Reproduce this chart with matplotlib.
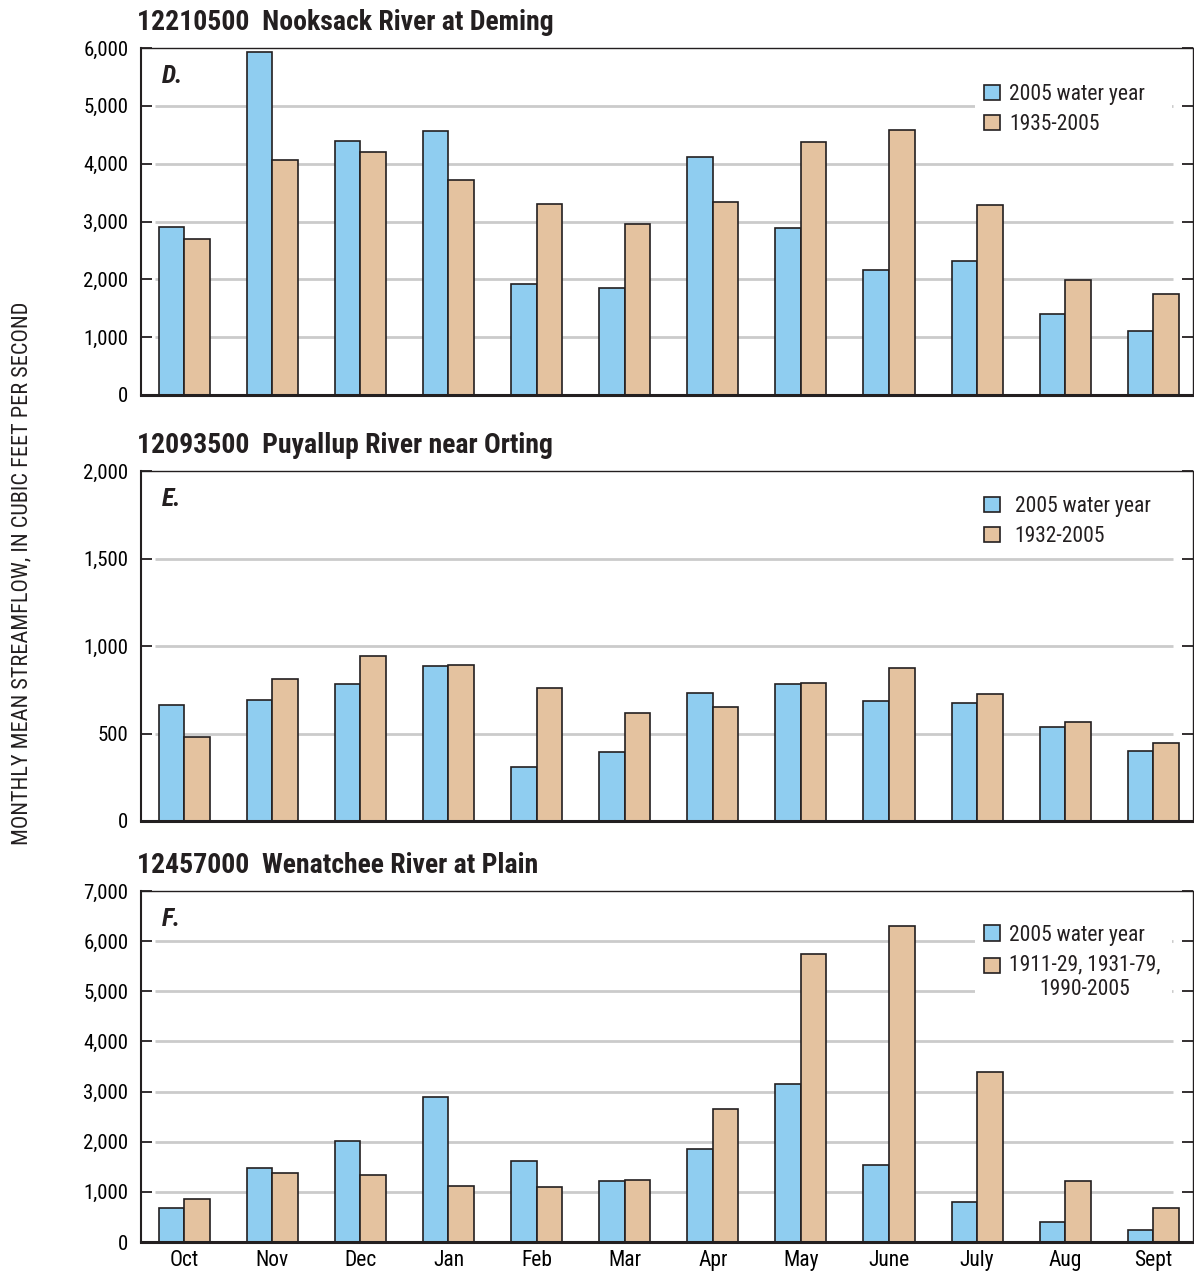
import matplotlib
matplotlib.use("Agg")
import matplotlib.pyplot as plt
from matplotlib import font_manager
from matplotlib.patches import Patch, Rectangle
from matplotlib.legend_handler import HandlerPatch
from matplotlib.ticker import FuncFormatter
import numpy as np

months = ['Oct', 'Nov', 'Dec', 'Jan', 'Feb', 'Mar', 'Apr', 'May', 'June', 'July', 'Aug', 'Sept']

# D. Nooksack River at Deming
nooksack_2005 = [2910, 5930, 4400, 4560, 1920, 1850, 4120, 2880, 2170, 2320, 1400, 1110]
nooksack_long = [2700, 4060, 4210, 3710, 3310, 2950, 3330, 4370, 4580, 3280, 1980, 1750]

# E. Puyallup River near Orting
puyallup_2005 = [662, 690, 785, 888, 306, 392, 733, 783, 685, 673, 538, 402]
puyallup_long = [481, 813, 944, 890, 762, 615, 650, 787, 873, 725, 567, 448]

# F. Wenatchee River at Plain
wenatchee_2005 = [673, 1473, 2020, 2893, 1613, 1207, 1847, 3153, 1533, 807, 407, 247]
wenatchee_long = [867, 1380, 1340, 1113, 1093, 1227, 2660, 5740, 6300, 3400, 1207, 673]

BLUE = '#8fcdf0'
TAN = '#e4c29f'
EDGE = '#231f20'
GRID = '#cbcbcb'

# narrow font if there is one
names = {f.name for f in font_manager.fontManager.ttflist}
FONT = 'DejaVu Sans'
for cand in ['Liberation Sans Narrow', 'Roboto Condensed', 'Open Sans Condensed']:
    if cand in names:
        FONT = cand
        break
plt.rcParams['font.family'] = [FONT, 'DejaVu Sans']

fig = plt.figure(figsize=(11.94, 12.74), dpi=100)

W = 1194.0
H = 1274.0
def axes_px(top, bottom, left=141, right=1193):
    return [left / W, 1 - bottom / H, (right - left) / W, (bottom - top) / H]

panels = [
    dict(box=axes_px(48, 395), ymax=6000, step=1000, letter='D.',
         title='12210500  Nooksack River at Deming', legtop=0.952, tpad=0.45,
         v1=nooksack_2005, v2=nooksack_long, lab2='1935-2005'),
    dict(box=axes_px(471, 821), ymax=2000, step=500, letter='E.',
         title='12093500  Puyallup River near Orting', legtop=0.984, tpad=0.7,
         v1=puyallup_2005, v2=puyallup_long, lab2='1932-2005'),
    dict(box=axes_px(891, 1242), ymax=7000, step=1000, letter='F.',
         title='12457000  Wenatchee River at Plain', legtop=0.959, tpad=0.45,
         v1=wenatchee_2005, v2=wenatchee_long, lab2='1911-29, 1931-79,\n1990-2005'),
]


# keep the tan box level with the first line of a two-line label
class TopHandler(HandlerPatch):
    def __init__(self, shift):
        super().__init__()
        self.shift = shift

    def create_artists(self, legend, orig_handle, xdescent, ydescent,
                       width, height, fontsize, trans):
        r = Rectangle((-xdescent, -ydescent + self.shift * fontsize), width, height)
        self.update_prop(r, orig_handle, legend)
        r.set_transform(trans)
        return [r]


x = np.arange(len(months))
w = 0.29
LEGFS = 15.5

for i, p in enumerate(panels):
    ax = fig.add_axes(p['box'])
    ticks = np.arange(0, p['ymax'] + 1, p['step'])
    # grid lines stop short of the frame
    ax.hlines(ticks[1:-1], -0.33, 11.22, colors=GRID, linewidth=2, zorder=0)
    ax.bar(x - w / 2, p['v1'], width=w, color=BLUE, edgecolor=EDGE, linewidth=1.2, zorder=2)
    ax.bar(x + w / 2, p['v2'], width=w, color=TAN, edgecolor=EDGE, linewidth=1.2, zorder=2)

    ax.set_xlim(-0.49, 11.45)
    ax.set_ylim(0, p['ymax'])
    ax.set_yticks(ticks)
    ax.yaxis.set_major_formatter(FuncFormatter(lambda v, pos: f'{int(v):,}'))
    ax.tick_params(axis='y', direction='in', length=8, width=1.3, color=EDGE,
                   right=True, labelsize=15, pad=9)
    if i == 2:
        ax.set_xticks(x)
        ax.set_xticklabels(months)
        ax.tick_params(axis='x', length=0, labelsize=15.5, pad=6)
    else:
        ax.set_xticks([])

    for side in ['left', 'right', 'top', 'bottom']:
        ax.spines[side].set_color(EDGE)
    ax.spines['left'].set_linewidth(1.5)
    ax.spines['bottom'].set_linewidth(2.2)
    ax.spines['top'].set_linewidth(1.0)
    ax.spines['right'].set_linewidth(1.0)

    ax.text(0.02, 0.92, p['letter'], transform=ax.transAxes, fontsize=18.5,
            fontweight='bold', fontstyle='italic', va='center', ha='left', color=EDGE)
    ax.text(-0.004, 1.035, p['title'], transform=ax.transAxes, fontsize=20,
            fontweight='bold', va='bottom', ha='left', color=EDGE)

    h1 = Patch(facecolor=BLUE, edgecolor=EDGE, linewidth=1.2)
    h2 = Patch(facecolor=TAN, edgecolor=EDGE, linewidth=1.2)
    hmap = {h2: TopHandler(0.58)} if '\n' in p['lab2'] else {}
    leg = ax.legend([h1, h2], ['2005 water year', p['lab2']], loc='upper left',
                    bbox_to_anchor=(0.7825, p['legtop'], 0.208, 0), mode='expand',
                    fontsize=LEGFS, frameon=True, handler_map=hmap,
                    facecolor='white', edgecolor='none', framealpha=1,
                    handlelength=0.75, handleheight=0.75, handletextpad=p['tpad'],
                    labelspacing=0.42, borderpad=0.4, fancybox=False)
    leg.set_zorder(5)
    for t in leg.get_texts():
        t.set_multialignment('center')
        t.set_color(EDGE)

fig.text(22 / W, 1 - 573 / H, 'MONTHLY MEAN STREAMFLOW, IN CUBIC FEET PER SECOND',
         rotation=90, ha='center', va='center', fontsize=16, color=EDGE)

fig.savefig('out.png', dpi=100)
